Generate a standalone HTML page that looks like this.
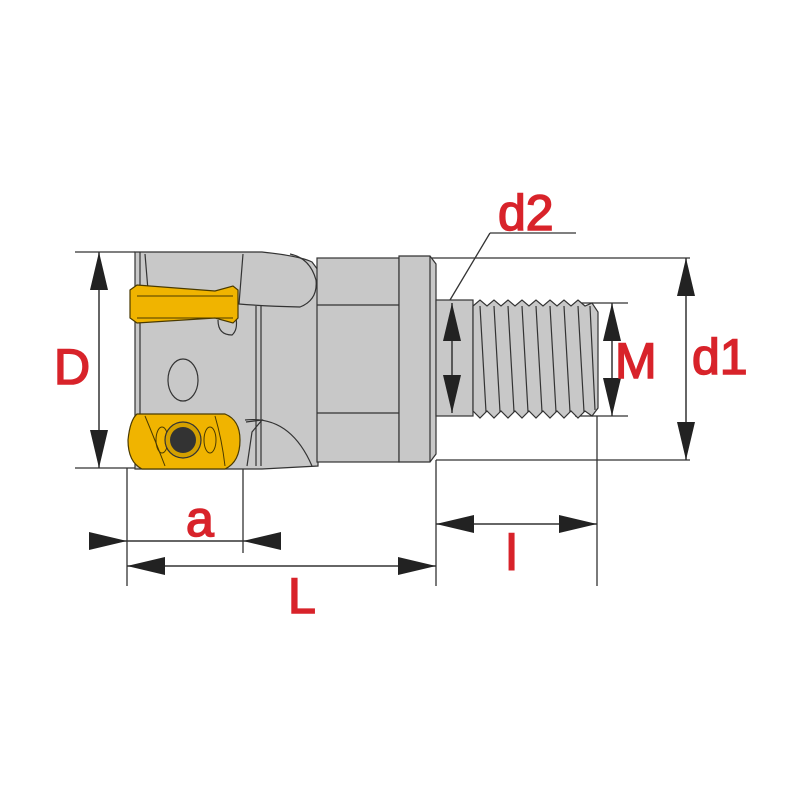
<!DOCTYPE html>
<html><head><style>html,body{margin:0;padding:0;background:#fff}svg{display:block}
text{font-family:"Liberation Sans Narrow","Liberation Sans",sans-serif;fill:#d8232a;stroke:#d8232a;stroke-width:1.6;font-size:50px}</style></head>
<body>
<svg width="800" height="800" viewBox="0 0 800 800" xmlns="http://www.w3.org/2000/svg">
<defs>
<marker id="a" viewBox="0 0 38 18" refX="38" refY="9" markerWidth="38" markerHeight="18" markerUnits="userSpaceOnUse" orient="auto"><path d="M0,0 L38,9 L0,18 Z" fill="#222"/></marker>
<marker id="s" viewBox="0 0 38 18" refX="0" refY="9" markerWidth="38" markerHeight="18" markerUnits="userSpaceOnUse" orient="auto"><path d="M38,0 L0,9 L38,18 Z" fill="#222"/></marker>
</defs>
<g stroke="#333" stroke-width="1.3">
<line x1="75" y1="252" x2="135" y2="252"/>
<line x1="75" y1="468" x2="135" y2="468"/>
<line x1="432" y1="258" x2="690" y2="258"/>
<line x1="436" y1="460" x2="690" y2="460"/>
<line x1="575" y1="303" x2="628" y2="303"/>
<line x1="575" y1="416" x2="628" y2="416"/>
<line x1="127" y1="468" x2="127" y2="586"/>
<line x1="243" y1="468" x2="243" y2="553"/>
<line x1="436" y1="460" x2="436" y2="586"/>
<line x1="597" y1="416" x2="597" y2="586"/>
<line x1="450" y1="300" x2="490" y2="233"/>
<line x1="490" y1="233" x2="576" y2="233"/>
</g>
<g stroke="#333" stroke-width="1.2" fill="#c8c8c8">
<path d="M135,252 L262,252 Q300,256 312,262 L318,270 L318,466 L262,469 L135,469 Z"/>
<rect x="317" y="258" width="82" height="204"/>
<line x1="317" y1="305" x2="399" y2="305"/>
<line x1="317" y1="413" x2="399" y2="413"/>
<path d="M399,256 L430,256 L436,264 L436,454 L430,462 L399,462 Z"/>
<line x1="430" y1="256" x2="430" y2="462"/>
<rect x="436" y="300" width="37" height="116"/>
<path d="M473,306 L480,300 L487,306 L494,300 L501,306 L508,300 L515,306 L522,300 L529,306 L536,300 L543,306 L550,300 L557,306 L564,300 L571,306 L578,300 L585,306 L592,303 L598,312 L598,408 L592,416 L585,411 L578,418 L571,411 L564,418 L557,411 L550,418 L543,411 L536,418 L529,411 L522,418 L515,411 L508,418 L501,411 L494,418 L487,411 L480,418 L473,411 Z"/>
<g fill="none">
<path d="M480,306 L486,412 M494,306 L500,412 M508,306 L514,412 M522,306 L528,412 M536,306 L542,412 M550,306 L556,412 M564,306 L570,412 M578,306 L584,412 M590,306 L595,410"/>
<path d="M243,254 L239,304 Q262,306 300,307 Q318,300 316,280 Q310,258 290,254"/>
<line x1="256" y1="306" x2="256" y2="466"/>
<line x1="261" y1="306" x2="261" y2="466"/>
<line x1="140" y1="252" x2="140" y2="469"/>
<line x1="145" y1="254" x2="148" y2="290"/>
<path d="M245,420 Q290,415 312,466"/>
<path d="M246,422 L262,420 L252,432 L247,466"/>
<ellipse cx="183" cy="380" rx="15" ry="21"/>
<path d="M218,320 Q218,335 232,335 Q238,330 236,318"/>
</g>
</g>
<g stroke="#4a3a00" stroke-width="1.2" fill="#f0b400">
<path d="M130,290 L137,285 L215,291 L233,286 L238,290 L238,318 L233,323 L215,318 L137,323 L130,318 Z"/>
<path d="M137,414 L225,414 Q240,420 240,440 Q240,462 225,469 L142,469 Q128,462 128,440 Q130,420 137,414 Z"/>
</g>
<g stroke="#4a3a00" stroke-width="1" fill="none">
<path d="M137,296 L233,296 M137,318 L233,318"/>
<path d="M145,416 Q155,440 165,466 M215,416 Q222,440 225,466"/>
<ellipse cx="162" cy="440" rx="6" ry="13"/>
<ellipse cx="210" cy="440" rx="6" ry="13"/>
</g>
<circle cx="183" cy="440" r="18" fill="#d4a000" stroke="#333" stroke-width="1.2"/>
<circle cx="183" cy="440" r="13" fill="#333"/>
<g stroke="#333" stroke-width="1.5" fill="none">
<line x1="99" y1="252" x2="99" y2="468" marker-start="url(#s)" marker-end="url(#a)"/>
<line x1="686" y1="258" x2="686" y2="460" marker-start="url(#s)" marker-end="url(#a)"/>
<line x1="612" y1="303" x2="612" y2="416" marker-start="url(#s)" marker-end="url(#a)"/>
<line x1="452" y1="303" x2="452" y2="413" marker-start="url(#s)" marker-end="url(#a)"/>
<line x1="127" y1="566" x2="436" y2="566" marker-start="url(#s)" marker-end="url(#a)"/>
<line x1="436" y1="524" x2="597" y2="524" marker-start="url(#s)" marker-end="url(#a)"/>
<line x1="89" y1="541" x2="127" y2="541" marker-end="url(#a)"/>
<line x1="281" y1="541" x2="243" y2="541" marker-end="url(#a)"/>
<line x1="127" y1="541" x2="243" y2="541"/>
</g>
<text x="54" y="384">D</text>
<text x="186" y="536">a</text>
<text x="288" y="613">L</text>
<text x="506" y="570">l</text>
<text x="615" y="378">M</text>
<text x="692" y="374">d1</text>
<text x="498" y="230">d2</text>
</svg>
</body></html>
